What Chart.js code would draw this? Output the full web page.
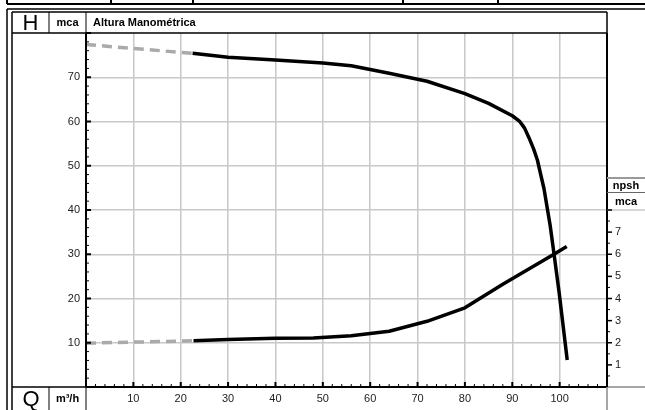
<!DOCTYPE html>
<html>
<head>
<meta charset="utf-8">
<script src="https://cdn.jsdelivr.net/npm/chart.js@4.4.1/dist/chart.umd.min.js"></script>
<style>
  html, body { margin: 0; padding: 0; background: #fff; }
  canvas { display: block; }
</style>
</head>
<body>
<canvas id="curva" width="645" height="410"></canvas>
<script>
// Curva H (altura manométrica, mca) - trecho operacional
const vazaoH = [22.5, 30, 40, 50, 56, 64, 72, 80, 85, 90, 91.5, 92.6, 93.5, 94.5, 95.3, 96.7, 98, 98.8, 99.9, 101.6];
const alturaH = [75.4, 74.5, 73.9, 73.2, 72.6, 70.9, 69.1, 66.3, 64.1, 61.3, 60.1, 58.5, 56.4, 53.8, 51.3, 44.8, 36.5, 30.2, 21.3, 6.1];
// Curva H - trecho tracejado (fora da faixa)
const vazaoHExt = [0, 22.5];
const alturaHExt = [77.4, 75.4];

// Curva NPSH (mca) - eixo da direita
const vazaoN = [22.7, 30, 40, 48, 56, 64, 72, 80, 88, 98.8, 101.5];
const npshN = [2.09, 2.15, 2.2, 2.22, 2.32, 2.52, 2.97, 3.58, 4.64, 6.0, 6.35];
const vazaoNExt = [0, 22.7];
const npshNExt = [1.98, 2.09];

// rótulos dos eixos
const ticksQ = [10, 20, 30, 40, 50, 60, 70, 80, 90, 100];
const ticksH = [10, 20, 30, 40, 50, 60, 70];
const ticksNpsh = [1, 2, 3, 4, 5, 6, 7];

const GRADE = '#c8c8c8';
const TRACO = '#aaaaaa';
const FONTE = "'Liberation Sans', Arial, sans-serif";

function pares(xs, ys) {
    return xs.map((x, i) => ({ x: x, y: ys[i] }));
}

// molduras, tiques menores e textos do cabeçalho
const moldura = {
    id: 'moldura',
    beforeDraw(chart) {
        const ctx = chart.ctx;
        ctx.save();
        ctx.fillStyle = '#fff';
        ctx.fillRect(0, 0, chart.width, chart.height);
        ctx.restore();
    },
    afterDraw(chart) {
        const ctx = chart.ctx;
        const a = chart.chartArea;
        const sx = chart.scales.x, sy = chart.scales.y, sn = chart.scales.y2;
        const W = chart.width, H = chart.height;

        function linha(x1, y1, x2, y2, cor, lw) {
            ctx.beginPath();
            ctx.strokeStyle = cor;
            ctx.lineWidth = lw;
            ctx.moveTo(x1, y1);
            ctx.lineTo(x2, y2);
            ctx.stroke();
        }
        ctx.save();

        // tabela do topo (cortada)
        linha(7, 4, W, 4, '#000', 2);
        [7, 111, 193, 403, 498].forEach(x => linha(x, 0, x, 4, '#000', 2));

        // moldura dupla
        linha(7, 9, W, 9, '#000', 1.5);
        linha(7, 9, 7, H, '#000', 1.5);
        linha(12, 12, a.right, 12, '#000', 1.5);
        linha(12, 12, 12, H, '#000', 1.5);

        // cabeçalho
        linha(12, a.top, a.right, a.top, '#000', 1.5);
        linha(49, 12, 49, a.top, '#000', 1);
        linha(a.left, 12, a.left, a.top, '#000', 1);
        linha(a.right, 12, a.right, a.top, '#000', 1.5);

        // linha Q
        linha(12, a.bottom, a.left, a.bottom, '#000', 1.5);
        linha(49, a.bottom, 49, H, '#000', 1);
        linha(a.left, a.bottom, a.left, H, '#000', 1);

        // bordas da área do gráfico
        linha(a.left, a.top, a.left, a.bottom, '#000', 2);
        linha(a.left, a.bottom, a.right, a.bottom, '#000', 2);
        linha(a.right, a.top, a.right, a.bottom, '#000', 2);

        // prolongamentos cinzas
        linha(a.right, a.bottom, W, a.bottom, '#888', 1.5);
        linha(a.right, a.bottom, a.right, H, '#888', 1.5);
        const y40 = sy.getPixelForValue(40);
        linha(a.right, y40, W, y40, GRADE, 1.5);

        // caixa npsh
        linha(a.right, 178, W, 178, '#999', 2);
        linha(a.right, 192.5, W, 192.5, '#666', 1);

        // tiques eixo H (para dentro)
        for (let v = 0; v <= 80; v += 2) {
            const y = sy.getPixelForValue(v);
            const maior = v % 10 === 0;
            linha(a.left, y, a.left + (maior ? 5 : 3), y, '#000', maior ? 2 : 1);
        }
        // tiques eixo Q (para cima)
        for (let v = 0; v <= 110; v += 2) {
            const x = sx.getPixelForValue(v);
            const maior = v % 10 === 0;
            linha(x, a.bottom, x, a.bottom - (maior ? 5 : 3), '#000', maior ? 2 : 1);
        }
        // tiques eixo npsh (para fora)
        for (let v = 0.5; v <= 8; v += 0.5) {
            const y = sn.getPixelForValue(v);
            const maior = v % 1 === 0;
            linha(a.right, y, a.right + (maior ? 5 : 3), y, '#000', maior ? 1.5 : 1);
        }

        // textos
        ctx.fillStyle = '#000';
        ctx.textBaseline = 'middle';
        ctx.textAlign = 'center';
        ctx.font = '22px ' + FONTE;
        ctx.fillText('H', 30.5, 23.5);
        ctx.fillText('Q', 31, 399.5);
        ctx.font = 'bold 11px ' + FONTE;
        ctx.fillText('mca', 67.5, 23);
        ctx.fillText('m³/h', 67.5, 399);
        ctx.fillText('npsh', 626, 185.5);
        ctx.fillText('mca', 626, 202);
        ctx.textAlign = 'left';
        ctx.fillText('Altura Manométrica', 93, 23);

        ctx.restore();
    }
};

const grade = (lista) => (c) => (c.tick && lista.includes(c.tick.value)) ? GRADE : 'rgba(0,0,0,0)';

new Chart(document.getElementById('curva'), {
    type: 'line',
    data: {
        datasets: [
            {
                label: 'H ext',
                data: pares(vazaoHExt, alturaHExt),
                yAxisID: 'y',
                borderColor: TRACO,
                borderWidth: 3.5,
                borderDash: [10, 6],
                pointRadius: 0,
                fill: false
            },
            {
                label: 'NPSH ext',
                data: pares(vazaoNExt, npshNExt),
                yAxisID: 'y2',
                borderColor: TRACO,
                borderWidth: 3.5,
                borderDash: [10, 6],
                pointRadius: 0,
                fill: false
            },
            {
                label: 'H',
                data: pares(vazaoH, alturaH),
                yAxisID: 'y',
                borderColor: '#000',
                borderWidth: 3.5,
                pointRadius: 0,
                tension: 0,
                borderJoinStyle: 'round',
                fill: false
            },
            {
                label: 'NPSH',
                data: pares(vazaoN, npshN),
                yAxisID: 'y2',
                borderColor: '#000',
                borderWidth: 3.5,
                pointRadius: 0,
                tension: 0,
                borderJoinStyle: 'round',
                fill: false
            }
        ]
    },
    options: {
        responsive: false,
        animation: false,
        devicePixelRatio: 1,
        layout: { padding: { top: 33, left: 0, right: 0, bottom: 0 } },
        plugins: {
            legend: { display: false },
            tooltip: { enabled: false }
        },
        scales: {
            x: {
                type: 'linear',
                position: 'bottom',
                min: 0,
                max: 110,
                afterFit: (s) => { s.height = 23; },
                ticks: {
                    stepSize: 10,
                    padding: 5,
                    maxRotation: 0,
                    color: '#222',
                    font: { size: 11, family: FONTE },
                    callback: (v) => ticksQ.includes(v) ? v : null
                },
                grid: { color: grade(ticksQ), lineWidth: 1.5, drawTicks: false },
                border: { display: false }
            },
            y: {
                position: 'left',
                min: 0,
                max: 80,
                afterFit: (s) => { s.width = 86; },
                ticks: {
                    stepSize: 10,
                    padding: 6,
                    color: '#222',
                    font: { size: 11, family: FONTE },
                    callback: (v) => ticksH.includes(v) ? v : null
                },
                grid: { color: grade(ticksH), lineWidth: 1.5, drawTicks: false },
                border: { display: false }
            },
            y2: {
                position: 'right',
                min: 0,
                max: 16,
                afterFit: (s) => { s.width = 38; },
                ticks: {
                    stepSize: 1,
                    padding: 8,
                    color: '#222',
                    font: { size: 11, family: FONTE },
                    callback: (v) => ticksNpsh.includes(v) ? v : null
                },
                grid: { display: false, drawTicks: false },
                border: { display: false }
            }
        }
    },
    plugins: [moldura]
});
</script>
</body>
</html>
